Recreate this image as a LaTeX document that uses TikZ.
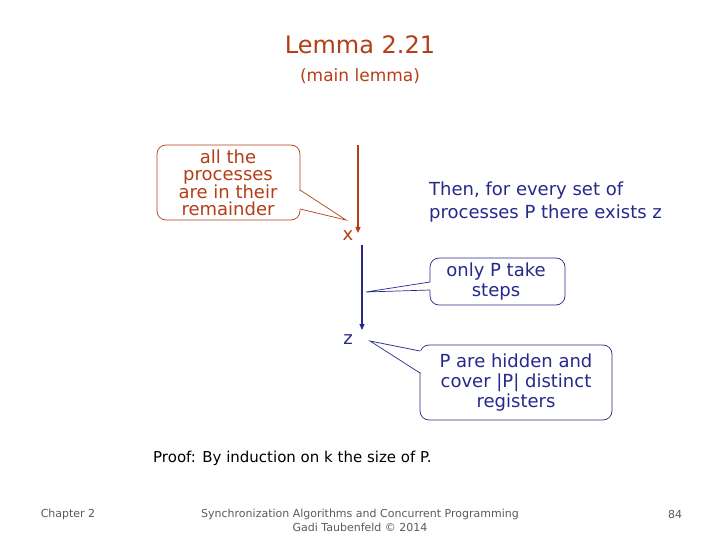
\documentclass[tikz,border=0pt]{standalone}
\usepackage{fontspec}
\setmainfont{DejaVu Sans}
\usetikzlibrary{arrows.meta}
\definecolor{brn}{RGB}{180,62,22}
\definecolor{nav}{RGB}{38,40,140}
\definecolor{gry}{RGB}{90,90,90}
\tikzset{
  txt/.style={inner sep=0pt, align=center},
  boxb/.style={draw=brn, line width=0.7pt, fill=white, rounded corners=9pt},
  boxn/.style={draw=nav, line width=0.7pt, fill=white, rounded corners=9pt},
  arr/.style={line width=1.2pt, -{Triangle[length=6pt,width=5pt]}},
}
\begin{document}
\begin{tikzpicture}[x=1pt,y=-1pt]
\useasboundingbox (0,0) rectangle (720,540);
% title
\node[txt, text=brn, font=\fontsize{24}{27}\selectfont] (title) at (360,45) {Lemma 2.21};
\node[txt, text=brn, font=\fontsize{17}{20}\selectfont] (sub) at (360,76) {(main lemma)};
% brown arrow
\coordinate (b1) at (358,145);
\coordinate (b2) at (358,233);
\draw[arr, brn] (b1) -- (b2);
\node[txt, text=brn, font=\fontsize{18}{20}\selectfont] (x) at (348,236) {x};
% callout 1
\coordinate (tip1) at (346,220);
\draw[boxb] (157,145) rectangle (300,220);
\fill[white] (298,190) -- (tip1) -- (298,209) -- cycle;
\draw[brn, line width=0.7pt] (300,190) -- (tip1) -- (300,209);
\node[txt, text=brn, font=\fontsize{18}{17}\selectfont] (c1) at (228,183) {all the\\processes\\are in their\\remainder};
% then text
\node[txt, text=nav, anchor=west, align=left, font=\fontsize{18}{23}\selectfont] (then) at (429,202) {Then, for every set of\\processes P there exists z};
% blue arrow
\coordinate (n1) at (362,245);
\coordinate (n2) at (362,330);
\draw[arr, nav] (n1) -- (n2);
\node[txt, text=nav, font=\fontsize{18}{20}\selectfont] (z) at (348,340) {z};
% callout 2
\coordinate (tip2) at (366,292);
\draw[boxn] (430,258) rectangle (565,305);
\fill[white] (432,282) -- (tip2) -- (432,290) -- cycle;
\draw[nav, line width=0.7pt] (430,282) -- (tip2) -- (430,290);
\node[txt, text=nav, font=\fontsize{18}{20}\selectfont] (c2) at (496,282) {only P take\\steps};
% callout 3
\coordinate (tip3) at (370,341);
\draw[boxn] (420,345) rectangle (612,420);
\fill[white] (422,351) -- (tip3) -- (422,373) -- cycle;
\draw[nav, line width=0.7pt] (420,351) -- (tip3) -- (420,373);
\node[txt, text=nav, font=\fontsize{18}{20}\selectfont] (c3) at (516,383) {P are hidden and\\cover |P| distinct\\registers};
% proof
\node[txt, anchor=west, font=\fontsize{15}{17}\selectfont] (proof) at (153,458) {Proof: By induction on k the size of P.};
% footer
\node[txt, text=gry, font=\fontsize{11}{13}\selectfont] (ch) at (68,514) {Chapter 2};
\node[txt, text=gry, font=\fontsize{11}{14}\selectfont] (foot) at (360,520) {Synchronization Algorithms and Concurrent Programming\\Gadi Taubenfeld © 2014};
\node[txt, text=gry, font=\fontsize{11}{13}\selectfont] (pg) at (675,514) {84};
\end{tikzpicture}
\end{document}
